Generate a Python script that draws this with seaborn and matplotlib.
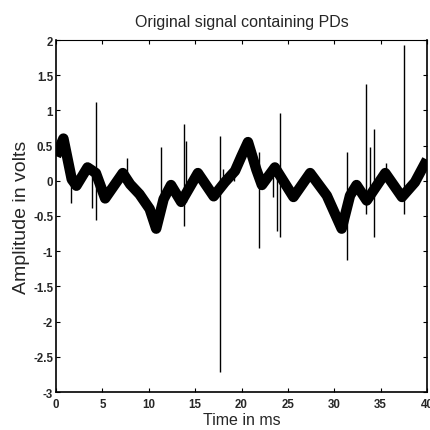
import matplotlib
matplotlib.use("Agg")
import matplotlib.pyplot as plt
import seaborn as sns
import numpy as np
import pandas as pd

# Base waveform (centre of the thick noisy band), time in ms, amplitude in volts
time_ms = [0.0, 0.8, 1.7, 2.2, 3.4, 4.3, 5.3, 7.2, 8.0, 9.0, 10.1, 10.8, 11.6, 12.4,
           13.5, 15.3, 17.0, 18.2, 19.3, 20.0, 20.7, 21.6, 22.2, 23.6, 25.6, 27.4,
           29.2, 30.8, 31.7, 32.4, 33.5, 35.5, 37.3, 38.7, 40.0]
amplitude = [0.35, 0.60, 0.02, -0.07, 0.19, 0.11, -0.25, 0.11, -0.05, -0.19, -0.40,
             -0.68, -0.26, -0.06, -0.30, 0.11, -0.22, -0.02, 0.14, 0.35, 0.55, 0.16,
             -0.06, 0.19, -0.23, 0.11, -0.21, -0.68, -0.21, -0.06, -0.28, 0.11, -0.23,
             -0.02, 0.30]

# Partial discharge spikes: time, lowest value, highest value
pd_time = [1.58, 3.85, 4.28, 7.65, 11.3, 13.75, 14.0, 17.7, 18.0, 19.2, 21.9, 23.4,
           23.8, 24.2, 31.4, 33.4, 33.85, 34.3, 35.6, 37.5]
pd_low = [-0.32, -0.39, -0.55, 0.0, -0.40, -0.64, -0.30, -2.71, -0.05, 0.0, -0.96,
          -0.23, -0.71, -0.80, -1.12, -0.47, -0.30, -0.80, 0.0, -0.47]
pd_high = [0.05, 0.15, 1.12, 0.32, 0.48, 0.81, 0.57, 0.64, 0.17, 0.24, 0.41, 0.10,
           0.20, 0.96, 0.41, 1.37, 0.48, 0.73, 0.25, 1.93]

x_ticks = [0, 5, 10, 15, 20, 25, 30, 35, 40]
y_ticks = [-3, -2.5, -2, -1.5, -1, -0.5, 0, 0.5, 1, 1.5, 2]
y_tick_labels = ["-3", "-2.5", "-2", "-1.5", "-1", "-0.5", "0", "0.5", "1", "1.5", "2"]

sns.set_style("white")
plt.rcParams["font.family"] = ["Liberation Sans", "DejaVu Sans"]

fig = plt.figure(figsize=(4.30, 4.31), dpi=100)
ax = fig.add_axes([56 / 430, 1 - 393 / 431, (427 - 56) / 430, (393 - 41) / 431])

df = pd.DataFrame({"t": time_ms, "v": amplitude})
sns.lineplot(data=df, x="t", y="v", sort=False, color="black", linewidth=7.5,
             ax=ax, solid_joinstyle="round", solid_capstyle="butt")
ax.vlines(pd_time, pd_low, pd_high, color="black", linewidth=1.0)

ax.set_xlim(0, 40)
ax.set_ylim(-3, 2)
ax.set_xticks(x_ticks)
ax.set_xticklabels([str(v) for v in x_ticks])
ax.set_yticks(y_ticks)
ax.set_yticklabels(y_tick_labels)

for lab in ax.get_xticklabels() + ax.get_yticklabels():
    lab.set_fontweight("bold")
    lab.set_fontsize(8.3)

ax.tick_params(axis="both", direction="in", length=3, width=0.8, color="black",
               top=True, right=True, bottom=True, left=True)
ax.tick_params(axis="x", pad=4)
ax.tick_params(axis="y", pad=2)

for side in ["left", "bottom", "right"]:
    ax.spines[side].set_linewidth(1.2)
    ax.spines[side].set_color("black")
ax.spines["top"].set_linewidth(0.8)
ax.spines["top"].set_color("black")

ax.set_title("Original signal containing PDs", fontsize=11.5, pad=10)
ax.set_xlabel("Time in ms", fontsize=11.5, labelpad=2)
ax.set_ylabel("Amplitude in volts", fontsize=14, labelpad=2)

fig.savefig("out.png", dpi=100)
